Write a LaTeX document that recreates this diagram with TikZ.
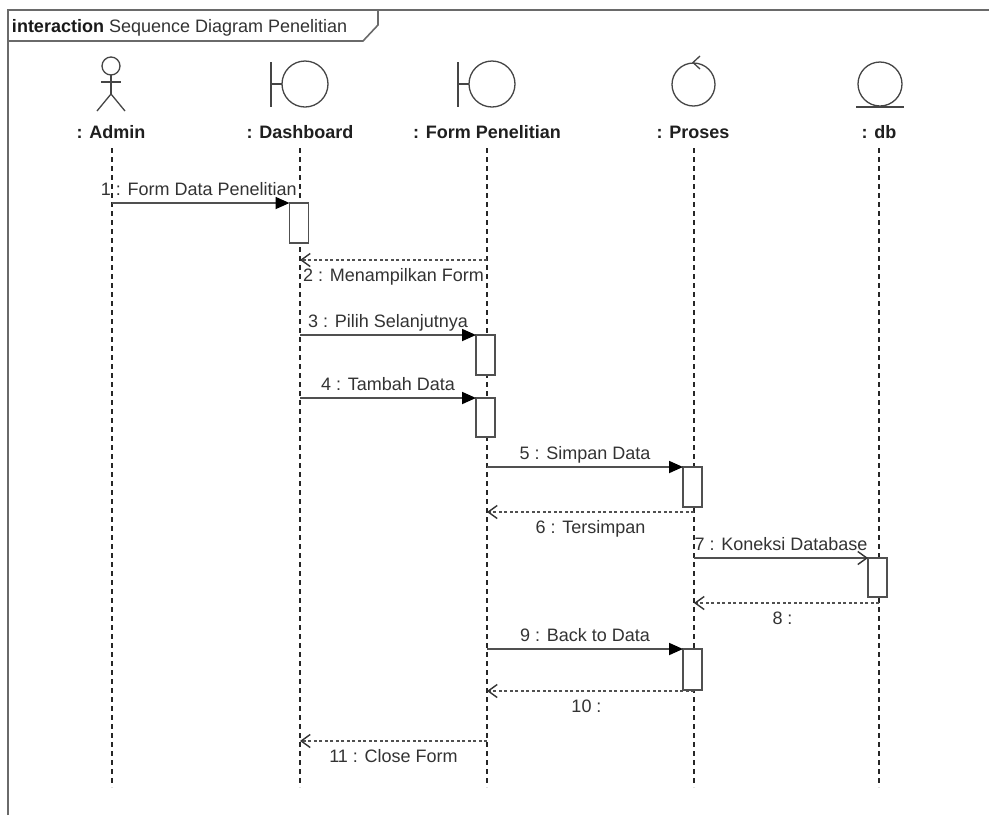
\documentclass[tikz,border=0pt]{standalone}
\usepackage{fontspec}
\setmainfont{Liberation Sans}
\usetikzlibrary{arrows.meta}
\definecolor{linegray}{HTML}{505050}
\definecolor{txtgray}{HTML}{333333}
\definecolor{framegray}{HTML}{6A6A6A}
\definecolor{icongray}{HTML}{454545}
\begin{document}
\begin{tikzpicture}[x=1pt,y=-1pt,
  every node/.style={inner sep=0pt, outer sep=0pt},
  msgtext/.style={font=\fontsize{18}{21}\selectfont, text=txtgray},
  headtext/.style={font=\fontsize{18}{21}\selectfont\bfseries, text=black!88},
  lifeline/.style={draw=black!85, line width=1.2pt, dash pattern=on 5pt off 4pt},
  act/.style={draw=linegray, fill=white, line width=1.8pt, minimum width=19pt},
  sync/.style={draw=linegray, line width=1.8pt, -{Triangle[length=14pt,width=12pt,color=black]}},
  async/.style={draw=linegray, line width=1.8pt, -{Straight Barb[length=9pt,width=13pt,color=black!80,line width=1.4pt]}},
  ret/.style={draw=linegray, line width=1.8pt, dash pattern=on 3pt off 2.5pt, -{Straight Barb[length=9pt,width=13pt,color=black!80,line width=1.4pt]}},
  fwdlbl/.style={msgtext, midway, anchor=base, yshift=8pt},
  retlbl/.style={msgtext, midway, anchor=base, yshift=-21pt},
  iconline/.style={draw=icongray, line width=1.3pt},
  framedraw/.style={draw=framegray, line width=1.6pt}
]
\useasboundingbox (0,0) rectangle (989,815);
\fill[white] (0,0) rectangle (989,815);

% frame
\draw[framedraw] (8,815) -- (8,10) -- (989,10);
\draw[framedraw] (8,41) -- (363,41) -- (378,25) -- (378,10);
\node[anchor=base west, font=\fontsize{18}{21}\selectfont] (title) at (12,32)
  {\textbf{\color{black!90}interaction} \textcolor{txtgray}{Sequence Diagram Penelitian}};

% icons
% actor
\draw[iconline] (111,66) circle (9);
\draw[iconline] (111,75) -- (111,94);
\draw[iconline] (101,82) -- (121,82);
\draw[iconline] (97,111) -- (111,94) -- (125,111);
% boundary: Dashboard
\draw[iconline] (271,62) -- (271,107);
\draw[iconline] (271,84) -- (282,84);
\draw[iconline] (305,84) circle (23);
% boundary: Form Penelitian
\draw[iconline] (458,62) -- (458,107);
\draw[iconline] (458,84) -- (469,84);
\draw[iconline] (492,84) circle (23);
% control: Proses
\draw[iconline] (693.5,84.5) circle (21.5);
\draw[iconline] (700,56) -- (693,62.5) -- (700,69);
% entity: db
\draw[iconline] (880,84) circle (22);
\draw[draw=icongray, line width=2.2pt] (856,107) -- (904,107);

% heads
\node[headtext, anchor=base] (hadmin) at (111,138.5) {: Admin};
\node[headtext, anchor=base] (hdash) at (300,138.5) {: Dashboard};
\node[headtext, anchor=base] (hform) at (487,138.5) {: Form Penelitian};
\node[headtext, anchor=base] (hproses) at (693,138.5) {: Proses};
\node[headtext, anchor=base] (hdb) at (879,138.5) {: db};

% lifelines
\coordinate (lat) at (112,148); \coordinate (lab) at (112,787);
\coordinate (ldt) at (300,148); \coordinate (ldb) at (300,787);
\coordinate (lft) at (487,148); \coordinate (lfb) at (487,787);
\coordinate (lpt) at (694,148); \coordinate (lpb) at (694,787);
\coordinate (lbt) at (879,148); \coordinate (lbb) at (879,787);
\draw[lifeline] (lat) -- (lab);
\draw[lifeline] (ldt) -- (ldb);
\draw[lifeline] (lft) -- (lfb);
\draw[lifeline] (lpt) -- (lpb);
\draw[lifeline] (lbt) -- (lbb);

% activations
\node[act, minimum height=40pt] (a1) at (299,223) {};
\node[act, minimum height=40pt] (a3) at (485.5,355) {};
\node[act, minimum height=39pt] (a4) at (485.5,417.5) {};
\node[act, minimum height=40pt] (a5) at (692.5,487) {};
\node[act, minimum height=39pt] (a7) at (877.5,577.5) {};
\node[act, minimum height=41pt] (a9) at (692.5,669.5) {};

% message endpoints
\coordinate (m1s) at (112,203);
\coordinate (r2s) at (487,260); \coordinate (r2e) at (300,260);
\coordinate (m3s) at (300,335);
\coordinate (m4s) at (300,398);
\coordinate (m5s) at (487,467);
\coordinate (r6s) at (694,512); \coordinate (r6e) at (487,512);
\coordinate (m7s) at (694,558);
\coordinate (r8s) at (879,603); \coordinate (r8e) at (694,603);
\coordinate (m9s) at (487,649);
\coordinate (r10s) at (694,691); \coordinate (r10e) at (487,691);
\coordinate (r11s) at (487,741); \coordinate (r11e) at (300,741);

% messages
\draw[sync] (m1s) -- (a1.north west) node[fwdlbl, xshift=-2pt] (t1) {1 : Form Data Penelitian};
\draw[ret] (r2s) -- (r2e) node[retlbl] (t2) {2 : Menampilkan Form};
\draw[sync] (m3s) -- (a3.north west) node[fwdlbl] (t3) {3 : Pilih Selanjutnya};
\draw[sync] (m4s) -- (a4.north west) node[fwdlbl] (t4) {4 : Tambah Data};
\draw[sync] (m5s) -- (a5.north west) node[fwdlbl] (t5) {5 : Simpan Data};
\draw[ret] (r6s) -- (r6e) node[retlbl] (t6) {6 : Tersimpan};
\draw[async] (m7s) -- (a7.north west) node[fwdlbl] (t7) {7 : Koneksi Database};
\draw[ret] (r8s) -- (r8e) node[retlbl, xshift=-4pt] (t8) {8 :};
\draw[sync] (m9s) -- (a9.north west) node[fwdlbl] (t9) {9 : Back to Data};
\draw[ret] (r10s) -- (r10e) node[retlbl, xshift=-4pt] (t10) {10 :};
\draw[ret] (r11s) -- (r11e) node[retlbl] (t11) {11 : Close Form};
\end{tikzpicture}
\end{document}
